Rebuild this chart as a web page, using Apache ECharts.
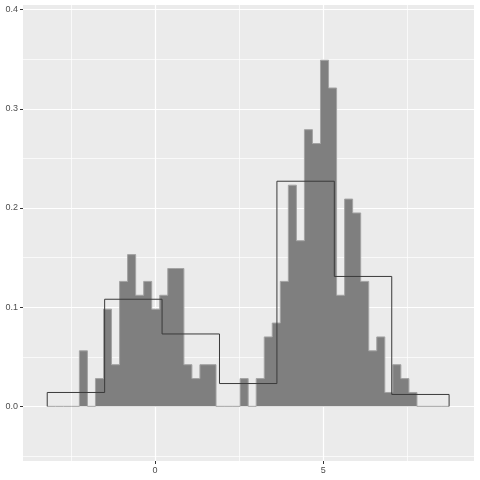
<!DOCTYPE html>
<html>
<head>
<meta charset="utf-8">
<script src="https://cdn.jsdelivr.net/npm/echarts@6/dist/echarts.min.js"></script>
<style>
html,body{margin:0;padding:0;background:#fff;}
#chart{width:480px;height:480px;}
</style>
</head>
<body>
<div id="chart"></div>
<script>
// Fine histogram (50 bins): bin edges and densities
var fineEdges = [-3.200,-2.961,-2.722,-2.484,-2.245,-2.006,-1.767,-1.528,-1.290,-1.051,
  -0.812,-0.573,-0.334,-0.096,0.143,0.382,0.621,0.860,1.098,1.337,
  1.576,1.815,2.054,2.292,2.531,2.770,3.009,3.248,3.486,3.725,
  3.964,4.203,4.442,4.680,4.919,5.158,5.397,5.636,5.874,6.113,
  6.352,6.591,6.830,7.068,7.307,7.546,7.785,8.024,8.262,8.501,8.740];
var fineDensity = [0,0,0,0,0.056,0,0.028,0.098,0.042,0.126,
  0.153,0.112,0.126,0.098,0.112,0.139,0.139,0.042,0.028,0.042,
  0.042,0,0,0,0.028,0,0.028,0.070,0.084,0.126,
  0.223,0.167,0.279,0.265,0.349,0.321,0.112,0.209,0.195,0.126,
  0.056,0.070,0.014,0.042,0.028,0.014,0,0,0,0];
// Coarse histogram (7 bins)
var coarseEdges = [-3.200,-1.494,0.212,1.918,3.624,5.330,7.036,8.740];
var coarseDensity = [0.014,0.108,0.073,0.023,0.227,0.131,0.012];
// Axis ticks
var xMajorTicks = [0,5];
var xMinorTicks = [-2.5,2.5,7.5];
var yMajorTicks = [0,0.1,0.2,0.3,0.4];
var yMinorTicks = [-0.05,0.05,0.15,0.25,0.35];

function stepPoints(edges, dens){
  var pts = [[edges[0],0]];
  for (var i=0;i<dens.length;i++) pts.push([edges[i],dens[i]]);
  pts.push([edges[edges.length-1],0]);
  return pts;
}

var X_MIN=-3.92, X_MAX=9.48, Y_MIN=-0.0551, Y_MAX=0.4047;
var font='"Liberation Sans", Arial, sans-serif';

var chart = echarts.init(document.getElementById('chart'), null, {renderer:'canvas'});
chart.setOption({
  backgroundColor:'#ffffff',
  animation:false,
  grid:{left:23,right:6,top:5,bottom:19,show:true,backgroundColor:'#EBEBEB',borderWidth:0},
  xAxis:[{
    type:'value',min:X_MIN,max:X_MAX,
    axisLine:{show:false,onZero:false},
    axisTick:{show:true,customValues:xMajorTicks,length:3,lineStyle:{color:'#333333',width:1}},
    axisLabel:{customValues:xMajorTicks,color:'#4D4D4D',fontSize:9,fontFamily:font,margin:5},
    splitLine:{show:true,lineStyle:{color:'#ffffff',width:1.2}}
  },{
    type:'value',min:X_MIN,max:X_MAX,position:'top',
    axisLine:{show:false,onZero:false},
    axisTick:{show:false,customValues:xMinorTicks},
    axisLabel:{show:false,customValues:xMinorTicks},
    splitLine:{show:true,lineStyle:{color:'#ffffff',width:0.7}}
  }],
  yAxis:[{
    type:'value',min:Y_MIN,max:Y_MAX,
    axisLine:{show:false,onZero:false},
    axisTick:{show:true,customValues:yMajorTicks,length:3,lineStyle:{color:'#333333',width:1}},
    axisLabel:{customValues:yMajorTicks,color:'#4D4D4D',fontSize:9,fontFamily:font,margin:5,
      formatter:function(v){return v.toFixed(1);}},
    splitLine:{show:true,lineStyle:{color:'#ffffff',width:1.2}}
  },{
    type:'value',min:Y_MIN,max:Y_MAX,position:'right',
    axisLine:{show:false,onZero:false},
    axisTick:{show:false,customValues:yMinorTicks},
    axisLabel:{show:false,customValues:yMinorTicks},
    splitLine:{show:true,lineStyle:{color:'#ffffff',width:0.7}}
  }],
  series:[{
    type:'line',step:'end',symbol:'none',
    data:stepPoints(fineEdges,fineDensity),
    lineStyle:{color:'#A3A3A3',width:1},
    areaStyle:{color:'#7F7F7F',opacity:1,origin:0},
    z:2
  },{
    type:'line',step:'end',symbol:'none',
    data:stepPoints(coarseEdges,coarseDensity),
    lineStyle:{color:'#3A3A3A',width:1},
    z:3
  }]
});
</script>
</body>
</html>
